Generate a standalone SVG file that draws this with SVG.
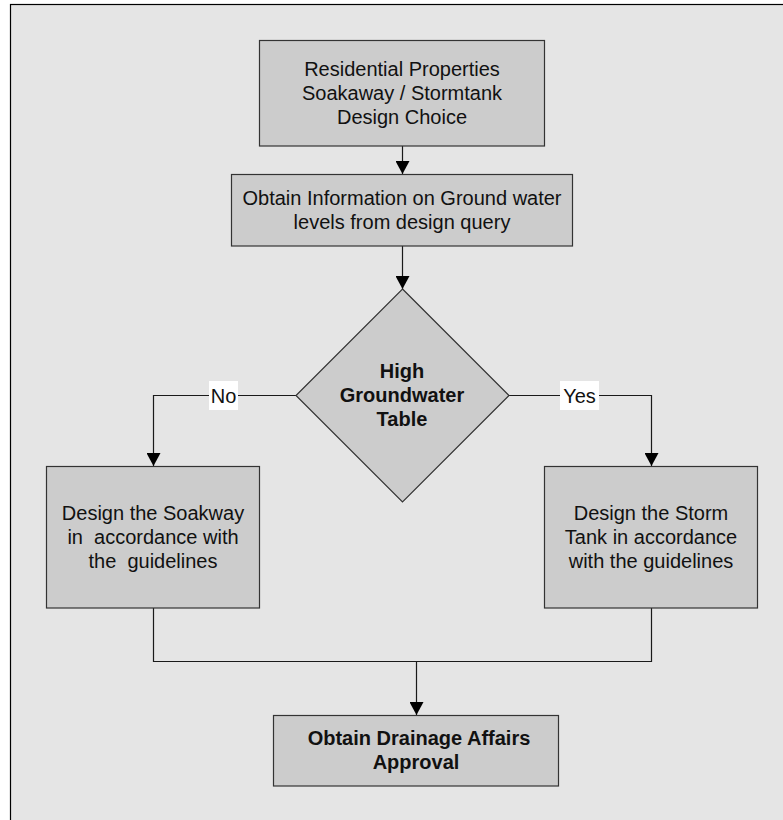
<svg xmlns="http://www.w3.org/2000/svg" width="783" height="820" viewBox="0 0 783 820">
  <defs>
    <marker id="arrow" markerUnits="userSpaceOnUse" markerWidth="14" markerHeight="14" refX="13" refY="7" orient="auto">
      <path d="M0,0 L13,7 L0,14 z" fill="#000"/>
    </marker>
    <style>
      .box { fill: #cccccc; stroke: #333333; stroke-width: 1.2; }
      .t { font-family: "Liberation Sans", Arial, sans-serif; font-size: 20px; fill: #111; text-anchor: middle; }
      .b { font-weight: bold; }
      .conn { fill: none; stroke: #1a1a1a; stroke-width: 1.2; }
      .lbl { fill: #ffffff; }
    </style>
  </defs>
  <rect x="0" y="0" width="783" height="820" fill="#ffffff"/>
  <rect x="10.5" y="4.5" width="800" height="830" fill="#e5e5e5" stroke="#000" stroke-width="1.2"/>

  <g id="connectors">
    <path class="conn" d="M402.5,146 V174" marker-end="url(#arrow)"/>
    <path class="conn" d="M402.5,246 V289" marker-end="url(#arrow)"/>
    <path class="conn" d="M296,395.5 H153.5 V466" marker-end="url(#arrow)"/>
    <path class="conn" d="M508,395.5 H651.5 V466" marker-end="url(#arrow)"/>
    <path class="conn" d="M153.5,608 V661.5 H651.5 V608"/>
    <path class="conn" d="M416.5,661.5 V715" marker-end="url(#arrow)"/>
    <g id="label-no">
      <rect class="lbl" x="209" y="381" width="29" height="29"/>
      <text class="t" x="223.5" y="403">No</text>
    </g>
    <g id="label-yes">
      <rect class="lbl" x="560" y="381" width="39" height="29"/>
      <text class="t" x="579.5" y="403">Yes</text>
    </g>
  </g>

  <g id="start">
    <rect class="box" x="259.5" y="40.5" width="285" height="105.5"/>
    <text class="t" x="402" y="76">Residential Properties</text>
    <text class="t" x="402" y="100">Soakaway / Stormtank</text>
    <text class="t" x="402" y="124">Design Choice</text>
  </g>

  <g id="obtain-info">
    <rect class="box" x="231.5" y="174.5" width="341" height="71.5"/>
    <text class="t" x="402" y="205">Obtain Information on Ground water</text>
    <text class="t" x="402" y="229">levels from design query</text>
  </g>

  <g id="decision">
    <polygon class="box" points="402.5,289 509,395.5 402.5,502 296,395.5"/>
    <text class="t b" x="402" y="378">High</text>
    <text class="t b" x="402" y="402">Groundwater</text>
    <text class="t b" x="402" y="426">Table</text>
  </g>

  <g id="soakway">
    <rect class="box" x="46.5" y="466.5" width="213" height="141.5"/>
    <text class="t" x="153" y="520">Design the Soakway</text>
    <text class="t" x="153" y="544" xml:space="preserve">in  accordance with</text>
    <text class="t" x="153" y="568" xml:space="preserve">the  guidelines</text>
  </g>

  <g id="stormtank">
    <rect class="box" x="544.5" y="466.5" width="213" height="141.5"/>
    <text class="t" x="651" y="520">Design the Storm</text>
    <text class="t" x="651" y="544">Tank in accordance</text>
    <text class="t" x="651" y="568">with the guidelines</text>
  </g>

  <g id="approval">
    <rect class="box" x="273.5" y="715.5" width="285" height="70.5"/>
    <text class="t b" x="419" y="745">Obtain Drainage Affairs</text>
    <text class="t b" x="416" y="769">Approval</text>
  </g>
</svg>
